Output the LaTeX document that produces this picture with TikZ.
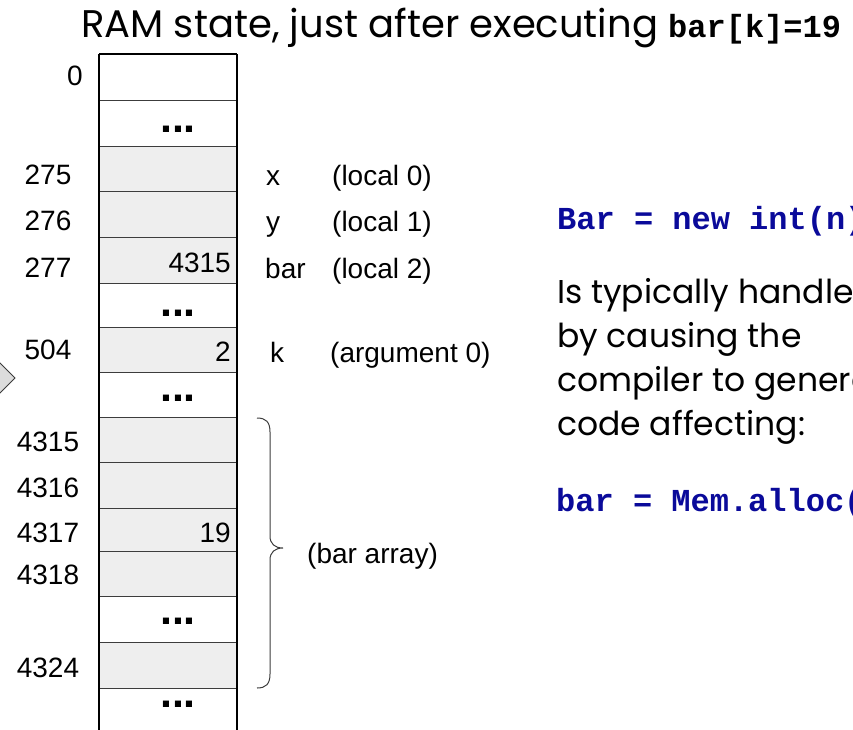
\documentclass[tikz,border=0pt]{standalone}
\usepackage{fontspec}
\setmainfont{Liberation Sans}
\newfontfamily\handfont{Poppins}
\newfontfamily\codefont{Liberation Mono}
\definecolor{cellgray}{HTML}{EEEEEE}
\definecolor{rulegray}{HTML}{3C3C3C}
\definecolor{codeblue}{HTML}{0A0A9A}
\definecolor{tipgray}{HTML}{DCDCDC}
\begin{document}
\begin{tikzpicture}[x=1pt,y=-1pt,
  addr/.style={anchor=base, inner sep=0pt, font=\fontsize{28}{28}\selectfont},
  val/.style={anchor=base east, inner sep=0pt, font=\fontsize{28}{28}\selectfont},
  lbl/.style={anchor=base west, inner sep=0pt, font=\fontsize{28}{28}\selectfont},
  ellip/.style={anchor=base, inner sep=0pt, font=\fontsize{43}{43}\selectfont\bfseries},
  graycell/.style={fill=cellgray, draw=rulegray, line width=1pt},
  whitecell/.style={fill=white, draw=rulegray, line width=1pt},
  titletext/.style={anchor=base west, inner sep=0pt, font=\handfont\fontsize{38.5}{38.5}\selectfont},
  hand/.style={anchor=base west, inner sep=0pt, font=\handfont\fontsize{33}{33}\selectfont},
  code/.style={anchor=base west, inner sep=0pt, font=\codefont\bfseries\fontsize{32}{32}\selectfont, text=codeblue},
  bracepath/.style={draw=rulegray, line width=1pt}
]
\useasboundingbox (0,0) rectangle (853,729);
\clip (0,0) rectangle (853,729);

% title
\node[titletext] (title) at (81,37) {RAM state, just after executing};
\node[anchor=base west, inner sep=0pt, font=\codefont\bfseries\fontsize{32}{32}\selectfont] (titlecode) at (668,37) {bar[k]=19};

% pointer tip at the left margin
\draw[fill=tipgray, draw=rulegray, line width=1pt] (-10,353) -- (15,378) -- (-10,403) -- (-35,378) -- cycle;

% memory cells, top to bottom
\path[whitecell] (99,54) rectangle (237,100);
\path[whitecell] (99,100) rectangle (237,146);
\path[graycell]  (99,146) rectangle (237,191);
\path[graycell]  (99,191) rectangle (237,237);
\path[graycell]  (99,237) rectangle (237,283);
\path[whitecell] (99,283) rectangle (237,327);
\path[graycell]  (99,327) rectangle (237,372);
\path[whitecell] (99,372) rectangle (237,417);
\path[graycell]  (99,417) rectangle (237,462);
\path[graycell]  (99,462) rectangle (237,508);
\path[graycell]  (99,508) rectangle (237,551);
\path[graycell]  (99,551) rectangle (237,596);
\path[whitecell] (99,596) rectangle (237,642);
\path[graycell]  (99,642) rectangle (237,688);
\path[whitecell] (99,688) rectangle (237,740);
\draw[line width=1.2pt] (99,54) -- (237,54);
\draw[line width=1.2pt] (99,54) -- (99,740);
\draw[line width=1.2pt] (237,54) -- (237,740);

% elided stretches of memory
\node[ellip] (gap1) at (178,132.5) {...};
\node[ellip] (gap2) at (178,316.5) {...};
\node[ellip] (gap3) at (178,401.5) {...};
\node[ellip] (gap4) at (178,624.5) {...};
\node[ellip] (gap5) at (178,707.5) {...};

% addresses
\node[addr] (a0)    at (75,85)  {0};
\node[addr] (a275)  at (48,184) {275};
\node[addr] (a276)  at (48,230) {276};
\node[addr] (a277)  at (48,277) {277};
\node[addr] (a504)  at (48,359) {504};
\node[addr] (a4315) at (48,451) {4315};
\node[addr] (a4316) at (48,497) {4316};
\node[addr] (a4317) at (48,542) {4317};
\node[addr] (a4318) at (48,584) {4318};
\node[addr] (a4324) at (48,677) {4324};

% stored values
\node[val] (v277)  at (231,272) {4315};
\node[val] (v504)  at (231,361) {2};
\node[val] (v4317) at (231,542) {19};

% variable names
\node[lbl] (nx)   at (266,185) {x};
\node[lbl] (ny)   at (266,231) {y};
\node[lbl] (nbar) at (265,278) {bar};
\node[lbl] (nk)   at (270,362) {k};
\node[lbl] (rx)   at (332,185) {(local 0)};
\node[lbl] (ry)   at (332,231) {(local 1)};
\node[lbl] (rbar) at (332,278) {(local 2)};
\node[lbl] (rk)   at (330,362) {(argument 0)};

% brace over the array
\path[bracepath] (257,418) .. controls (266,418) and (270,422) .. (270,432)
  -- (270,536) .. controls (270,544) and (275,548) .. (283,548)
  .. controls (275,548) and (270,552) .. (270,560)
  -- (270,674) .. controls (270,684) and (266,688) .. (257,688);
\node[lbl] (arr) at (307,563) {(bar array)};

% explanation on the right
\node[code] (alloc) at (557,229) {Bar = new int(n)};
\node[hand] (expl1) at (557,303) {Is typically handled};
\node[hand] (expl2) at (557,347) {by causing the};
\node[hand] (expl3) at (557,391) {compiler to generate};
\node[hand] (expl4) at (557,435) {code affecting:};
\node[code] (memcall) at (556,511) {bar = Mem.alloc(n)};
\end{tikzpicture}
\end{document}
